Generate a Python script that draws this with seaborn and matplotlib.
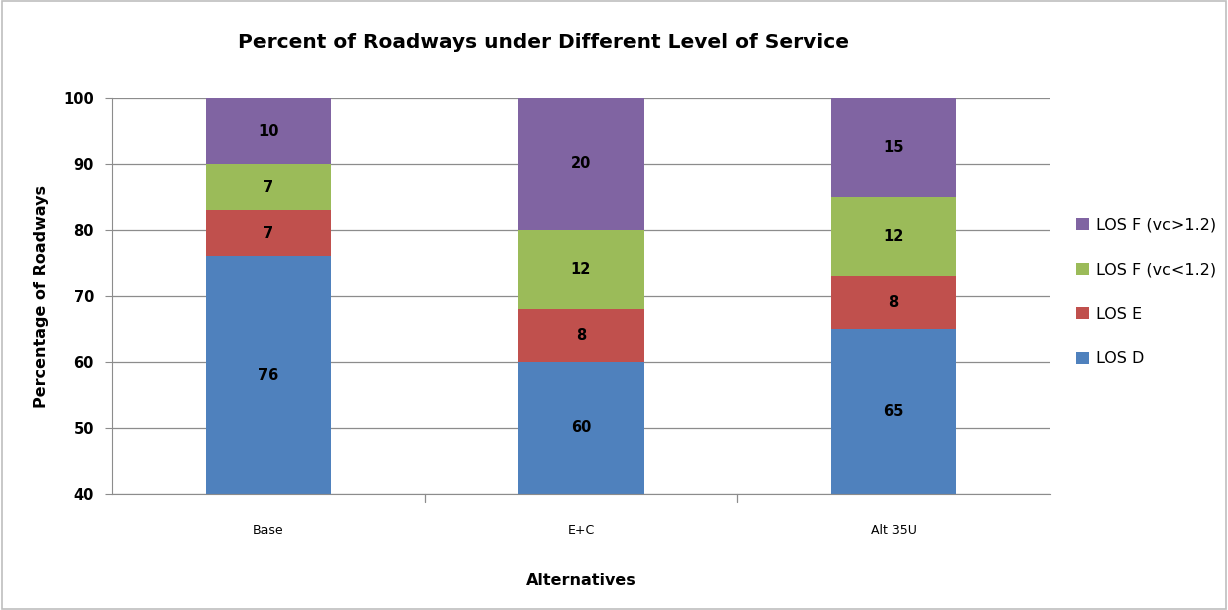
import matplotlib
matplotlib.use("Agg")
import matplotlib.pyplot as plt
import seaborn as sns
import pandas as pd
import numpy as np
from matplotlib.patches import Patch, Rectangle

categories = ["Base", "E+C", "Alt 35U"]
los_d = [76, 60, 65]
los_e = [7, 8, 8]
los_f_low = [7, 12, 12]
los_f_high = [10, 20, 15]
series_names = ["LOS D", "LOS E", "LOS F (vc<1.2)", "LOS F (vc>1.2)"]
colors = ["#4F81BD", "#C0504D", "#9BBB59", "#8064A2"]

sns.set_style("white")
plt.rcParams["font.family"] = ["DejaVu Sans"]
plt.rcParams["text.color"] = "black"
plt.rcParams["axes.labelcolor"] = "black"
plt.rcParams["xtick.color"] = "black"
plt.rcParams["ytick.color"] = "black"

fig = plt.figure(figsize=(12.28, 6.10), dpi=100)
ax = fig.add_axes([112/1228, 1-494/610, (1050-112)/1228, (494-98)/610])

ymin, ymax = 40, 100
series = [los_d, los_e, los_f_low, los_f_high]
cum = np.cumsum(np.array(series), axis=0)
# draw tallest cumulative first so smaller ones overlay
for i in range(len(series)-1, -1, -1):
    df = pd.DataFrame({"cat": categories, "val": cum[i]})
    sns.barplot(data=df, x="cat", y="val", color=colors[i], width=0.40,
                saturation=1, ax=ax, zorder=2, edgecolor="none")

# segment labels (centred on the visible part of each segment)
for i, s in enumerate(series):
    for j, v in enumerate(s):
        top = cum[i][j]
        bottom = max(top - v, ymin)
        ax.text(j, (bottom + top) / 2, str(v), ha="center", va="center",
                fontsize=10.5, fontweight="bold", color="black", zorder=3)

ax.set_xlim(-0.5, 2.5)
ax.set_ylim(ymin, ymax)
ax.set_yticks(range(40, 101, 10))
ax.yaxis.grid(True, color="#8c8c8c", linewidth=0.9, zorder=0)
ax.set_axisbelow(True)
for sp in ["top", "right"]:
    ax.spines[sp].set_visible(False)
ax.spines["left"].set_color("#8c8c8c")
ax.spines["bottom"].set_color("#8c8c8c")
ax.tick_params(axis="y", left=True, length=5, color="#8c8c8c", labelsize=10.5, pad=8)
for lbl in ax.get_yticklabels():
    lbl.set_fontweight("bold")
ax.set_xticks([0, 1, 2])
ax.set_xticklabels(categories, fontsize=9)
ax.tick_params(axis="x", bottom=False, pad=18)
for xb in [0.5, 1.5]:
    ax.plot([xb, xb], [40, 38.8], color="#8c8c8c", lw=0.9, clip_on=False)

ax.set_xlabel("Alternatives", fontsize=11.5, fontweight="bold", labelpad=26)
ax.set_ylabel("Percentage of Roadways", fontsize=11.5, fontweight="bold", labelpad=10)

fig.text(543/1228, 1-42/610, "Percent of Roadways under Different Level of Service",
         ha="center", va="center", fontsize=14.5, fontweight="bold")

handles = [Patch(facecolor=colors[i], edgecolor="none") for i in range(3, -1, -1)]
labels = [series_names[i] for i in range(3, -1, -1)]
fig.legend(handles, labels, loc="center left", bbox_to_anchor=(1062/1228, 1-292/610),
           frameon=False, fontsize=11.5, handlelength=0.8, handleheight=0.8,
           labelspacing=1.85, handletextpad=0.4)

fig.add_artist(Rectangle((0.002, 0.002), 0.996, 0.996, transform=fig.transFigure,
                         fill=False, edgecolor="#bfbfbf", linewidth=1.2))

fig.savefig("out.png", dpi=100)
